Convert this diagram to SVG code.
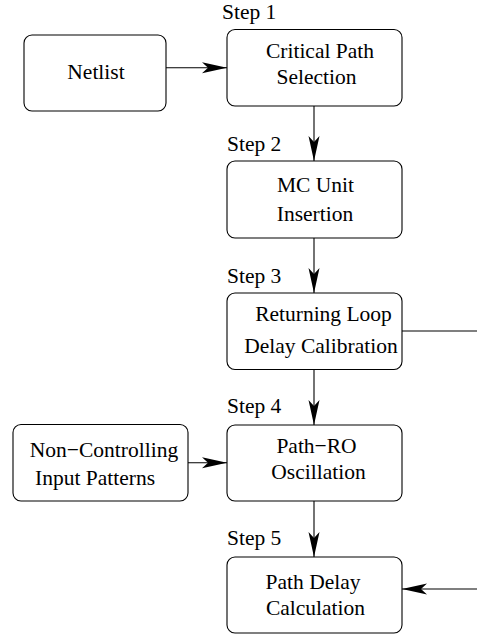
<svg xmlns="http://www.w3.org/2000/svg" width="477" height="637" viewBox="0 0 477 637">
  <style>
    .box { fill: #ffffff; stroke: #000000; stroke-width: 1.1; }
    text { font-family: 'Liberation Serif', 'Times New Roman', serif; font-size: 21.5px; fill: #000000; }
    .lbl { text-anchor: middle; }
    .edge { fill: none; stroke: #000000; stroke-width: 1.1; }
  </style>
  <defs>
    <marker id="arrow" markerUnits="userSpaceOnUse" markerWidth="30" markerHeight="16" viewBox="-26 -8 28 16" refX="0" refY="0" orient="auto">
      <path d="M0,0 L-25,-5.5 L-19,0 L-25,5.5 Z" fill="#000000"/>
    </marker>
  </defs>
  <rect width="477" height="637" fill="#ffffff"/>

  <!-- step labels -->
  <text x="222" y="18.5">Step 1</text>
  <text x="227" y="151">Step 2</text>
  <text x="227" y="283">Step 3</text>
  <text x="227" y="413">Step 4</text>
  <text x="227" y="545">Step 5</text>

  <!-- connectors -->
  <g id="connectors">
    <line class="edge" x1="166" y1="67.7" x2="227" y2="67.7" marker-end="url(#arrow)"/>
    <line class="edge" x1="314" y1="106" x2="314" y2="161" marker-end="url(#arrow)"/>
    <line class="edge" x1="314" y1="238" x2="314" y2="293" marker-end="url(#arrow)"/>
    <line class="edge" x1="402" y1="331" x2="477" y2="331"/>
    <line class="edge" x1="314" y1="369.5" x2="314" y2="425" marker-end="url(#arrow)"/>
    <line class="edge" x1="188" y1="462.7" x2="227" y2="462.7" marker-end="url(#arrow)"/>
    <line class="edge" x1="314" y1="501" x2="314" y2="557" marker-end="url(#arrow)"/>
    <line class="edge" x1="477" y1="589" x2="402" y2="589" marker-end="url(#arrow)"/>
  </g>

  <g id="netlist">
    <rect class="box" x="24" y="35" width="142" height="76" rx="8"/>
    <text class="lbl" x="96" y="79">Netlist</text>
  </g>

  <g id="step1">
    <rect class="box" x="227" y="29.5" width="175" height="76.5" rx="8"/>
    <text class="lbl" x="320" y="57.5">Critical Path</text>
    <text class="lbl" x="316.5" y="83.5">Selection</text>
  </g>

  <g id="step2">
    <rect class="box" x="227" y="161" width="175" height="77" rx="8"/>
    <text class="lbl" x="315.5" y="191.5">MC Unit</text>
    <text class="lbl" x="315" y="220.5">Insertion</text>
  </g>

  <g id="step3">
    <rect class="box" x="227" y="293" width="175" height="76.5" rx="8"/>
    <text class="lbl" x="323.5" y="320.5">Returning Loop</text>
    <text class="lbl" x="321" y="352.5">Delay Calibration</text>
  </g>

  <g id="patterns">
    <rect class="box" x="13" y="424.5" width="175" height="76.5" rx="8"/>
    <text class="lbl" x="104" y="456.5">Non−Controlling</text>
    <text class="lbl" x="95" y="485">Input Patterns</text>
  </g>

  <g id="step4">
    <rect class="box" x="227" y="425" width="175" height="76" rx="8"/>
    <text class="lbl" x="316.5" y="452.5">Path−RO</text>
    <text class="lbl" x="318.5" y="478.5">Oscillation</text>
  </g>

  <g id="step5">
    <rect class="box" x="227" y="557" width="175" height="76" rx="8"/>
    <text class="lbl" x="313" y="589">Path Delay</text>
    <text class="lbl" x="315.5" y="615">Calculation</text>
  </g>
</svg>
